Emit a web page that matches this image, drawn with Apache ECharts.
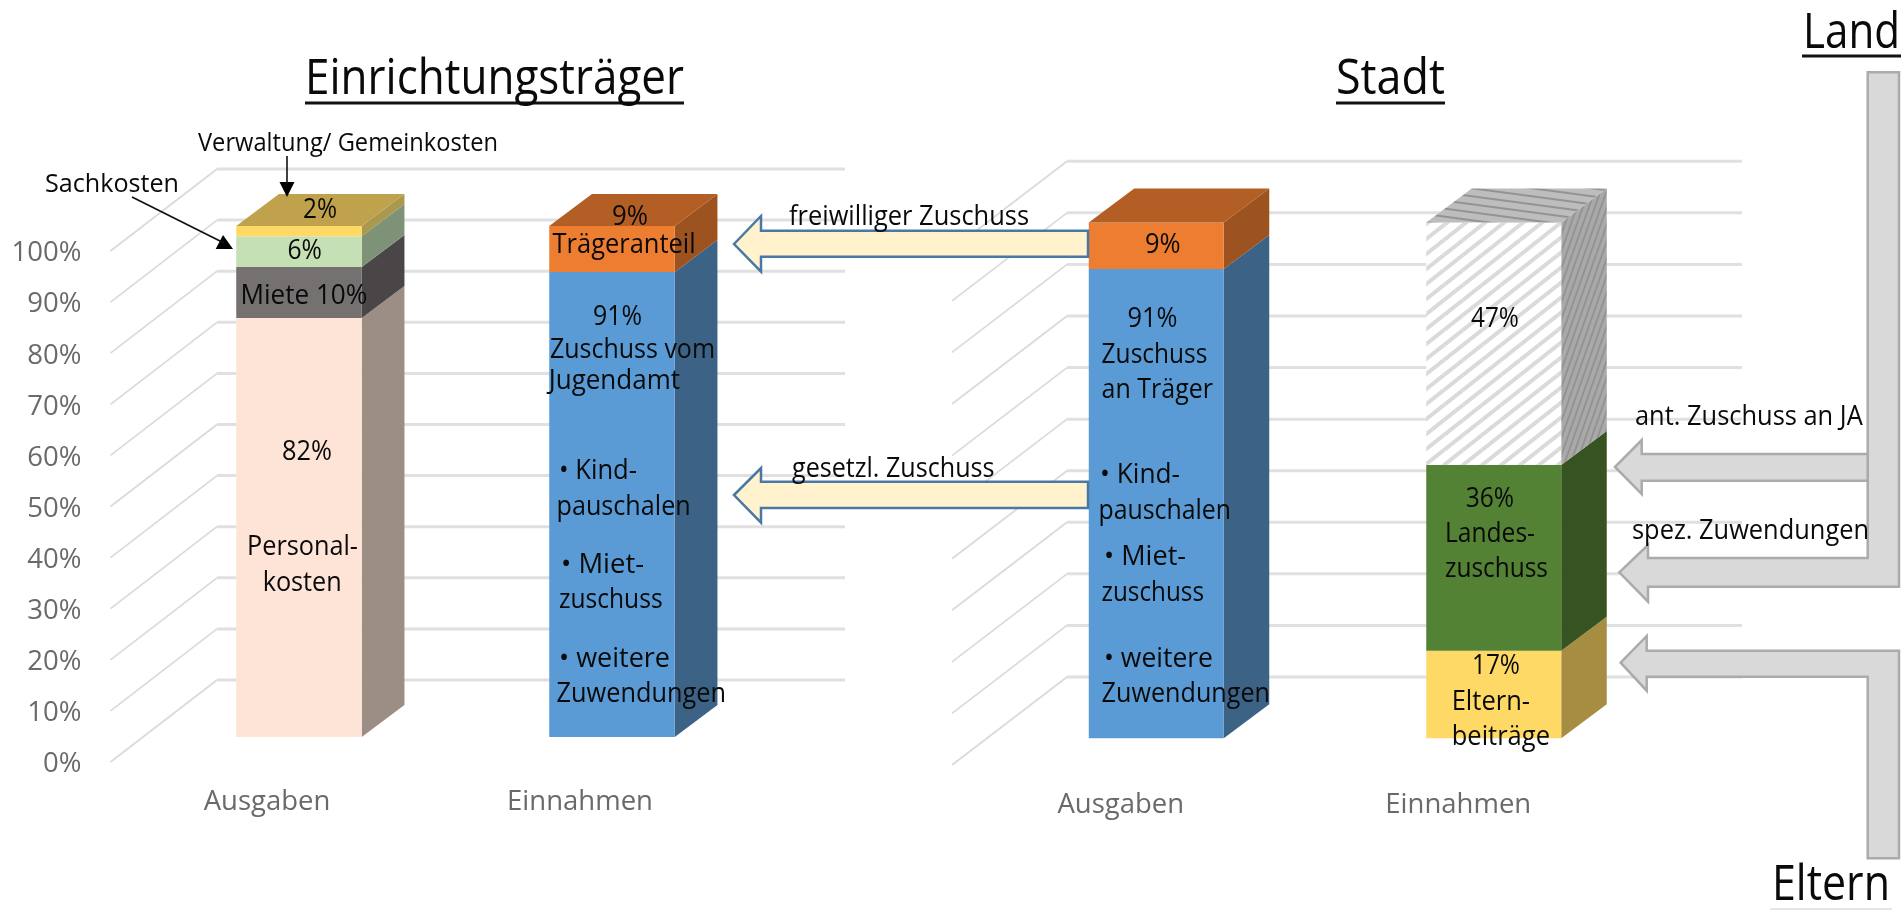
<!DOCTYPE html>
<html><head><meta charset="utf-8">
<style>html,body{margin:0;padding:0;background:#fff}#c{width:1904px;height:910px}</style>
<script src="https://cdn.jsdelivr.net/npm/echarts@6/dist/echarts.min.js"></script>
</head><body><div id="c"></div>
<script>
const FONT = '"Open Sans", sans-serif';
const categories = ['Ausgaben', 'Einnahmen'];
const yTicks = [0,10,20,30,40,50,60,70,80,90,100];

// segment values in %, bottom to top
const traegerAusgaben  = [82, 10, 6, 2];
const traegerEinnahmen = [91, 9];
const stadtAusgaben    = [91, 9];
const stadtEinnahmen   = [17, 36, 47];

const traegerAusgabenStyles  = ['peach','grey','lime','gold'];
const traegerEinnahmenStyles = ['blue','orange'];
const stadtAusgabenStyles    = ['blue','orange'];
const stadtEinnahmenStyles   = ['yellow','green','hatch'];

function tile(w,h,bg,fg,lw,dir){
  const c=document.createElement('canvas');c.width=w;c.height=h;
  const g=c.getContext('2d');g.fillStyle=bg;g.fillRect(0,0,w,h);
  g.strokeStyle=fg;g.lineWidth=lw;
  for(let i=-1;i<=1;i++){for(let j=-1;j<=1;j++){
    g.beginPath();
    if(dir>0){g.moveTo(i*w,j*h+h);g.lineTo(i*w+w,j*h);}
    else{g.moveTo(i*w,j*h);g.lineTo(i*w+w,j*h+h);}
    g.stroke();
  }}
  return {image:c,repeat:'repeat'};
}
const palette = {
  peach:{front:'#FDE4D6',side:'#9D8E85',top:'#BDA349'},
  grey:{front:'#767171',side:'#4A4647',top:'#BDA349'},
  lime:{front:'#C5E0B4',side:'#7E9277',top:'#BDA349'},
  gold:{front:'#FFD966',side:'#A8994F',top:'#BFA24B'},
  blue:{front:'#5B9BD5',side:'#3C6386',top:'#3C6386'},
  orange:{front:'#ED7D31',side:'#9C531F',top:'#B25E24'},
  yellow:{front:'#FFD966',side:'#A68D42',top:'#A68D42'},
  green:{front:'#548235',side:'#365321',top:'#365321'},
  hatch:{
    front:tile(19,15,'#ffffff','#dadada',4,1),
    side:tile(6,17,'#a9a9a9','#929292',1.8,1),
    top:tile(60,8,'#bdbdbd','#939393',2,-1)
  }
};

function rows(catIdx, values, styles){
  let base=0;
  return values.map((v,i)=>{const r=[catIdx,base,base+v,styles[i],i===values.length-1?1:0];base+=v;return r;});
}
function barItem(geo){
  return function(params,api){
    const cat=api.value(0), y0=api.coord([cat,api.value(1)]), y1=api.coord([cat,api.value(2)]);
    const band=api.size([1,0])[0];
    const w=band*geo.barFrac;
    const x=y0[0]+geo.barOff[0]-w/2, dyf=geo.barOff[1];
    const yb=y0[1]+dyf, yt=y1[1]+dyf;
    const p=palette[api.value(3)];
    const dx=geo.side[0], dy=geo.side[1];
    const kids=[
      {type:'polygon',shape:{points:[[x+w,yb],[x+w+dx,yb+dy],[x+w+dx,yt+dy],[x+w,yt]]},style:{fill:p.side}},
      {type:'rect',shape:{x:x,y:yt,width:w,height:yb-yt},style:{fill:p.front}}
    ];
    if(api.value(4)) kids.push({type:'polygon',shape:{points:[[x,yt],[x+dx,yt+dy],[x+w+dx,yt+dy],[x+w,yt]]},style:{fill:p.top}});
    return {type:'group',children:kids};
  };
}
function wallItem(geo){
  return function(params,api){
    const cs=params.coordSys, y=api.coord([0,api.value(0)])[1];
    const dx=geo.wall[0], dy=geo.wall[1];
    return {type:'group',children:[
      {type:'line',shape:{x1:cs.x,y1:y,x2:cs.x+dx,y2:y+dy},style:{stroke:'#dadada',lineWidth:1.7}},
      {type:'line',shape:{x1:cs.x+dx,y1:y+dy,x2:cs.x+cs.width+dx+(geo.extra||0),y2:y+dy},style:{stroke:'#e0e0e0',lineWidth:3}}
    ]};
  };
}
const geoL={wall:[106.5,-82],barOff:[32,-25],side:[42.7,-32],barFrac:0.401,extra:2};
const geoR={wall:[115,-88],barOff:[35.5,-26.7],side:[45.5,-34],barFrac:0.4};

const measure=document.createElement('canvas').getContext('2d');
function T(s,x0,x1,yc,size,color,weight){
  const w=weight||400;
  measure.font=w+' '+size+'px "Open Sans"';
  const nat=measure.measureText(s).width;
  return {type:'text',z:200,x:x0,y:yc,scaleX:(x1-x0)/nat,silent:true,
    style:{text:s,fill:color||'#0a0a0a',fontFamily:'Open Sans',fontSize:size,fontWeight:w,
      align:'left',verticalAlign:'middle',textAlign:'left',textVerticalAlign:'middle'}};
}
const IN=28;
const annotations=[
 T('Einrichtungsträger',305,684,80,50),T('Stadt',1336,1445,80,50),T('Land',1803,1900,34,50),T('Eltern',1772,1890,886,50),
 T('Verwaltung/ Gemeinkosten',198,498,143.5,26),T('Sachkosten',45,179,184.5,26),
 T('2%',303,337,210.5,IN),T('6%',287.5,322,251.5,IN),T('Miete 10%',240.4,367.4,296.5,IN),T('82%',282,332,452.5,IN),
 T('Personal-',247,358,547.5,IN),T('kosten',262.7,341.7,583.5,IN),
 T('9%',612,648,217.5,IN),T('Trägeranteil',552.6,695.6,245.5,IN),T('91%',593,642,317.5,IN),
 T('Zuschuss vom',550,715,350.5,IN),T('Jugendamt',548.7,680,381.5,IN),
 T('• Kind-',559,637,471.5,IN),T('pauschalen',556.5,690.7,507.5,IN),T('• Miet-',561,644,565,IN),T('zuschuss',559,662.6,600.5,IN),
 T('• weitere',559,670,659,IN),T('Zuwendungen',556.5,726,694.5,IN),
 T('freiwilliger Zuschuss',789,1029,217.5,IN),T('gesetzl. Zuschuss',792,994.5,469,IN),
 T('9%',1145,1180.6,245.5,IN),T('91%',1127.5,1177.5,319,IN),T('Zuschuss',1101.6,1207.4,355.5,IN),T('an Träger',1101.6,1213,390.5,IN),
 T('• Kind-',1100,1180,475.5,IN),T('pauschalen',1098.5,1231,511.5,IN),T('• Miet-',1104,1186,557.5,IN),T('zuschuss',1101.6,1204,593,IN),
 T('• weitere',1104,1213,659,IN),T('Zuwendungen',1101.6,1270,694,IN),
 T('47%',1471,1519,319,IN),T('36%',1465.7,1514,499,IN),T('Landes-',1445,1535,534.5,IN),T('zuschuss',1445,1548,569.5,IN),
 T('17%',1472,1520,666.5,IN),T('Eltern-',1451.7,1530,702.5,IN),T('beiträge',1451.7,1550,737.5,IN),
 T('ant. Zuschuss an JA',1635,1862.7,417.5,IN),T('spez. Zuwendungen',1632,1869,531.5,IN)
];
function line(x1,y1,x2,y2,c,w){return {type:'line',z:150,silent:true,shape:{x1,y1,x2,y2},style:{stroke:c,lineWidth:w}};}
function poly(points,fill,stroke,lw){return {type:'polygon',z:120,silent:true,shape:{points},style:{fill,stroke:stroke||null,lineWidth:lw||0,lineJoin:'miter'}};}
const BLUE='#4A78A6',CREAM='#FFF2CC',GF='#D9D9D9',GS='#ABABAB';
const shapes=[
 line(305,103,684,103,'#111',3),line(1336,103,1445,103,'#111',3),line(1802,56,1901,56,'#111',3),line(1770,909,1892,909,'#ccc',1),
 poly([[734,244],[761,216],[761,230.7],[1088,230.7],[1088,256.7],[761,256.7],[761,271.7]],CREAM,BLUE,2.5),
 poly([[734,495],[761,468],[761,481.7],[1088,481.7],[1088,508],[761,508],[761,522.7]],CREAM,BLUE,2.5),
 poly([[1619.3,572.3],[1648,545],[1648,558],[1867.7,558],[1867.7,72.3],[1899,72.3],[1899,586.7],[1648,586.7],[1648,601.7]],GF,GS,2.5),
 poly([[1615,467],[1641.7,440],[1641.7,454],[1867.7,454],[1867.7,480.7],[1641.7,480.7],[1641.7,494]],GF,GS,2.5),
 poly([[1620.7,662.7],[1646.7,636],[1646.7,650.7],[1899,650.7],[1899,858.3],[1867.7,858.3],[1867.7,676.7],[1646.7,676.7],[1646.7,690.7]],GF,GS,2.5),
 line(132,197,224,243,'#111',1.6),poly([[233,249],[215.7,249],[223,235]],'#000'),
 line(287,156,287,184,'#111',1.6),poly([[287,197],[279.5,182],[294.5,182]],'#000')
];

const axisLabel={fontFamily:FONT,fontSize:27.5,fontWeight:400,color:'#6a6a6a'};
const option={
  animation:false,backgroundColor:'#fff',
  grid:[{left:110.5,top:251,width:626,height:511},{left:952,top:249.3,width:675,height:515.7}],
  xAxis:[0,1].map(i=>({gridIndex:i,type:'category',data:categories,axisLine:{show:false},axisTick:{show:false},
    axisLabel:Object.assign({margin:26.5},axisLabel)})),
  yAxis:[
    {gridIndex:0,type:'value',min:0,max:100,interval:10,splitLine:{show:false},axisLine:{show:false},axisTick:{show:false},
     axisLabel:{margin:29,formatter:'{a|{value}%}',rich:{a:Object.assign({padding:[5,0,0,0]},axisLabel)}}},
    {gridIndex:1,type:'value',min:0,max:100,interval:10,splitLine:{show:false},axisLine:{show:false},axisTick:{show:false},axisLabel:{show:false}}
  ],
  series:[
    {type:'custom',xAxisIndex:0,yAxisIndex:0,z:1,silent:true,clip:false,renderItem:wallItem(geoL),data:yTicks.map(v=>[v]),encode:{y:0}},
    {type:'custom',xAxisIndex:1,yAxisIndex:1,z:1,silent:true,clip:false,renderItem:wallItem(geoR),data:yTicks.map(v=>[v]),encode:{y:0}},
    {type:'custom',xAxisIndex:0,yAxisIndex:0,z:2,silent:true,clip:false,renderItem:barItem(geoL),
     data:rows(0,traegerAusgaben,traegerAusgabenStyles).concat(rows(1,traegerEinnahmen,traegerEinnahmenStyles)),encode:{x:0,y:[1,2]}},
    {type:'custom',xAxisIndex:1,yAxisIndex:1,z:2,silent:true,clip:false,renderItem:barItem(geoR),
     data:rows(0,stadtAusgaben,stadtAusgabenStyles).concat(rows(1,stadtEinnahmen,stadtEinnahmenStyles)),encode:{x:0,y:[1,2]}}
  ],
  graphic:{elements:shapes.concat(annotations)}
};
const chart=echarts.init(document.getElementById('c'),null,{renderer:'canvas'});
chart.setOption(option);
</script></body></html>
